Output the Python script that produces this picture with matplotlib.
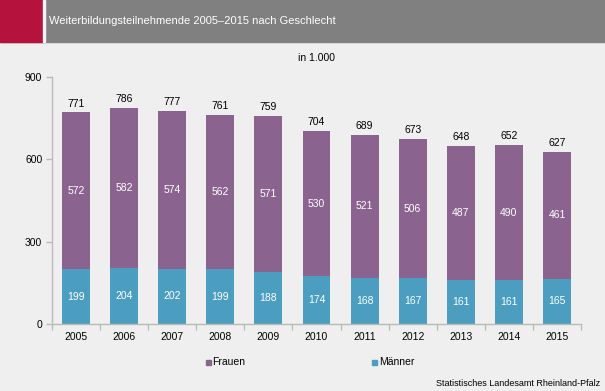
import matplotlib
matplotlib.use("Agg")
import matplotlib.pyplot as plt
from matplotlib.patches import Rectangle

plt.rcParams['font.family'] = ['Liberation Sans', 'DejaVu Sans']

years = ['2005', '2006', '2007', '2008', '2009', '2010', '2011', '2012', '2013', '2014', '2015']
maenner = [199, 204, 202, 199, 188, 174, 168, 167, 161, 161, 165]
frauen = [572, 582, 574, 562, 571, 530, 521, 506, 487, 490, 461]
totals = [771, 786, 777, 761, 759, 704, 689, 673, 648, 652, 627]

bg = '#EEEFEE'
c_fr = '#8A648F'
c_ma = '#4C9EC0'
W, H = 605, 391

fig = plt.figure(figsize=(W / 100, H / 100), dpi=100, facecolor=bg)

# header
fig.patches.append(Rectangle((0, 1 - 42 / H), 1, 42 / H, transform=fig.transFigure, color='#808080', zorder=0))
fig.patches.append(Rectangle((0, 1 - 42 / H), 43 / W, 42 / H, transform=fig.transFigure, color='#B5123E', zorder=1))
fig.patches.append(Rectangle((43 / W, 1 - 42 / H), 2 / W, 42 / H, transform=fig.transFigure, color='#F4F4F4', zorder=1))
fig.text(49 / W, 1 - 21 / H, 'Weiterbildungsteilnehmende 2005–2015 nach Geschlecht', color='white',
         fontsize=8, va='center', ha='left')

ax_l, ax_r, ax_t, ax_b = 52, 581, 77, 324
ax = fig.add_axes([ax_l / W, 1 - ax_b / H, (ax_r - ax_l) / W, (ax_b - ax_t) / H])
ax.set_facecolor(bg)

x = list(range(len(years)))
bw = 0.58
ax.bar(x, maenner, width=bw, color=c_ma, label='Männer', zorder=2)
ax.bar(x, frauen, width=bw, bottom=maenner, color=c_fr, label='Frauen', zorder=2)

for i in x:
    ax.text(i, maenner[i] / 2, str(maenner[i]), ha='center', va='center', color='white', fontsize=7.5)
    ax.text(i, maenner[i] + frauen[i] / 2, str(frauen[i]), ha='center', va='center', color='white', fontsize=7.5)
    ax.text(i, totals[i] + 14, str(totals[i]), ha='center', va='bottom', color='black', fontsize=7.5)

ax.set_xlim(-0.5, len(years) - 0.5)
ax.set_ylim(0, 900)
ax.set_yticks([0, 300, 600, 900])
ax.set_xticks(x)
ax.set_xticklabels(years)
ax.set_xticks([i - 0.5 for i in range(len(years) + 1)], minor=True)
ax.tick_params(axis='x', which='major', length=0, labelsize=7.5, pad=6)
ax.tick_params(axis='x', which='minor', length=4, color='#BBBBBB', width=1)
ax.tick_params(axis='y', length=4, color='#BBBBBB', width=1, labelsize=7.5, pad=3)
for s in ['top', 'right']:
    ax.spines[s].set_visible(False)
for s in ['left', 'bottom']:
    ax.spines[s].set_color('#BBBBBB')
    ax.spines[s].set_linewidth(1)

fig.text(316 / W, 1 - 58 / H, 'in 1.000', ha='center', va='center', fontsize=7.5)

# legend (manual placement)
for (lx, lab, col) in [(208, 'Frauen', c_fr), (375, 'Männer', c_ma)]:
    fig.patches.append(Rectangle(((lx - 2.5) / W, 1 - (362 + 2.5) / H), 5 / W, 5 / H,
                                 transform=fig.transFigure, color=col))
    fig.text((lx + 4) / W, 1 - 362 / H, lab, ha='left', va='center', fontsize=7.5)

fig.text(600 / W, 1 - 383 / H, 'Statistisches Landesamt Rheinland-Pfalz', ha='right', va='center', fontsize=6.5)

fig.savefig('out.png', dpi=100, facecolor=bg)
